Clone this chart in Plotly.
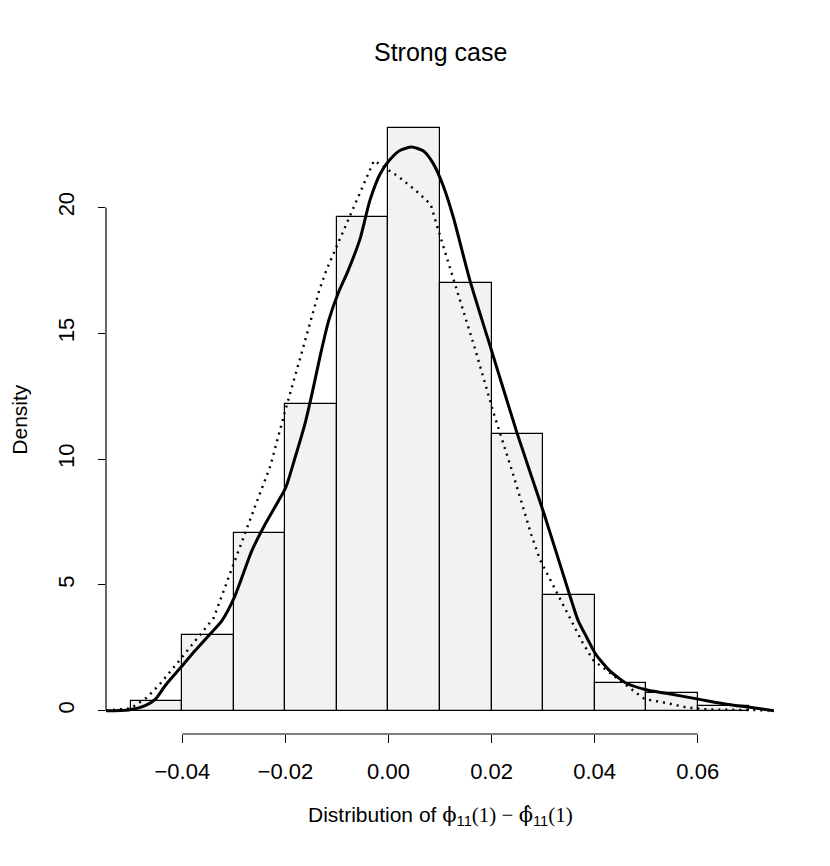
import plotly.graph_objects as go

# histogram (density scale), bins of width 0.01 starting at -0.05
bin_left = [-0.05, -0.04, -0.03, -0.02, -0.01, 0.00, 0.01, 0.02, 0.03, 0.04, 0.05, 0.06]
bin_density = [0.38, 3.0, 7.08, 12.2, 19.6, 23.14, 17.0, 11.0, 4.6, 1.1, 0.71, 0.2]
bin_width = 0.01

# solid density curve
solid_x = [-0.0548, -0.0504, -0.0472, -0.0452, -0.0433, -0.0414, -0.0400, -0.0375,
           -0.0349, -0.0323, -0.0299, -0.0286, -0.0265, -0.0239, -0.0213, -0.0199,
           -0.0181, -0.0162, -0.0147, -0.0133, -0.0116, -0.0098, -0.0078, -0.0055,
           -0.0036, -0.0016, 0.0003, 0.0023, 0.0045, 0.0068, 0.0087, 0.0106,
           0.0126, 0.0158, 0.0202, 0.0250, 0.0302, 0.0352, 0.0368, 0.0385,
           0.0402, 0.0429, 0.0462, 0.0502, 0.0539, 0.0604, 0.0656, 0.0704, 0.0748]
solid_y = [0.0, 0.03, 0.2, 0.46, 1.0, 1.46, 1.79, 2.39,
           2.98, 3.58, 4.5, 5.2, 6.36, 7.42, 8.35, 8.88,
           10.07, 11.4, 12.72, 14.05, 15.5, 16.57, 17.5, 18.76,
           20.28, 21.34, 21.9, 22.27, 22.4, 22.24, 21.74, 20.87,
           19.6, 17.1, 14.18, 11.0, 7.82, 4.57, 3.58, 2.9,
           2.25, 1.59, 1.09, 0.82, 0.69, 0.45, 0.26, 0.13, 0.0]

# dotted density curve
dot_x = [-0.0548, -0.0500, -0.0470, -0.0445, -0.0405, -0.0365, -0.0339, -0.0310,
         -0.0281, -0.0259, -0.0229, -0.0202, -0.0168, -0.0134, -0.0120, -0.0094,
         -0.0061, -0.0028, 0.0019, 0.0052, 0.0082, 0.0094, 0.0131, 0.0168,
         0.0203, 0.0241, 0.0277, 0.0294, 0.0318, 0.0347, 0.0376, 0.0397,
         0.0429, 0.0465, 0.0497, 0.0538, 0.0579, 0.0620, 0.0684, 0.0748]
dot_y = [0.0, 0.1, 0.5, 1.02, 2.01, 3.02, 3.69, 5.3,
         6.92, 8.11, 9.73, 11.8, 14.25, 16.73, 17.53, 18.76,
         20.28, 21.86, 21.23, 20.69, 20.12, 19.28, 16.83, 14.38,
         11.9, 9.45, 7.0, 6.0, 5.04, 3.88, 2.73, 2.01,
         1.52, 0.98, 0.46, 0.31, 0.13, 0.05, 0.04, 0.01]

x_ticks = [-0.04, -0.02, 0.00, 0.02, 0.04, 0.06]
x_ticktext = ["\u22120.04", "\u22120.02", "0.00", "0.02", "0.04", "0.06"]
y_ticks = [0, 5, 10, 15, 20]

FONT = "Liberation Sans, Arial, Helvetica, sans-serif"
PHI = "DejaVu Serif, Liberation Serif, serif"
SERIF = "Liberation Serif, Times New Roman, serif"

fig = go.Figure()

fig.add_trace(go.Bar(
    x=[b + bin_width / 2 for b in bin_left],
    y=bin_density,
    width=bin_width,
    marker=dict(color="#f2f2f2", line=dict(color="#000000", width=1.2)),
    hoverinfo="skip",
))

fig.add_trace(go.Scatter(
    x=dot_x, y=dot_y, mode="lines",
    line=dict(color="#000000", width=2.4, dash="2px,5px"),
    hoverinfo="skip",
))

fig.add_trace(go.Scatter(
    x=solid_x, y=solid_y, mode="lines",
    line=dict(color="#000000", width=3, shape="spline", smoothing=0.6),
    hoverinfo="skip",
))

# R style axis lines only between first and last tick
fig.add_shape(type="line", xref="x", yref="paper", x0=x_ticks[0], x1=x_ticks[-1],
              y0=0, y1=0, line=dict(color="#000000", width=1.2))
fig.add_shape(type="line", xref="paper", yref="y", x0=0, x1=0,
              y0=y_ticks[0], y1=y_ticks[-1], line=dict(color="#000000", width=1.2))

xlab = ("Distribution of "
        f"<span style='font-family:{PHI}'>\u03d5</span><sub>11</sub>"
        f"<span style='font-family:{SERIF}'>(1) \u2212 </span>"
        f"<span style='font-family:{PHI}'>\u03d5\u0302</span><sub>11</sub>"
        f"<span style='font-family:{SERIF}'>(1)</span>")

fig.add_annotation(text=xlab, xref="paper", yref="paper", x=0.5, y=-0.13,
                   showarrow=False, xanchor="center", yanchor="middle",
                   font=dict(family=FONT, size=21, color="#000000"))
fig.add_annotation(text="Density", xref="paper", yref="paper", x=-0.13, y=0.5,
                   showarrow=False, textangle=-90, xanchor="center", yanchor="middle",
                   font=dict(family=FONT, size=21, color="#000000"))
fig.add_annotation(text="Strong case", xref="paper", yref="paper", x=0.5, y=1.084,
                   showarrow=False, xanchor="center", yanchor="middle",
                   font=dict(family=FONT, size=25, color="#000000"))

# page body has an 8px margin, so the figure is 8px smaller and shifted
fig.update_layout(
    width=822, height=858, autosize=False,
    margin=dict(l=97.6, r=55.6, t=97, b=132),
    paper_bgcolor="#ffffff", plot_bgcolor="#ffffff",
    showlegend=False, bargap=0,
    font=dict(family=FONT, size=22, color="#000000"),
)
fig.update_xaxes(range=[-0.0548, 0.0748], tickvals=x_ticks, ticktext=x_ticktext,
                 ticks="outside", ticklen=8, tickwidth=1.2, tickcolor="#000000",
                 showline=False, showgrid=False, zeroline=False,
                 ticklabelstandoff=10, tickfont=dict(size=22))
fig.update_yaxes(range=[-0.926, 24.07], tickvals=y_ticks,
                 ticks="outside", ticklen=7, tickwidth=1.2, tickcolor="#000000",
                 showline=False, showgrid=False, zeroline=False, tickangle=-90,
                 ticklabelstandoff=15, tickfont=dict(size=22))

fig.write_html("out.html")
